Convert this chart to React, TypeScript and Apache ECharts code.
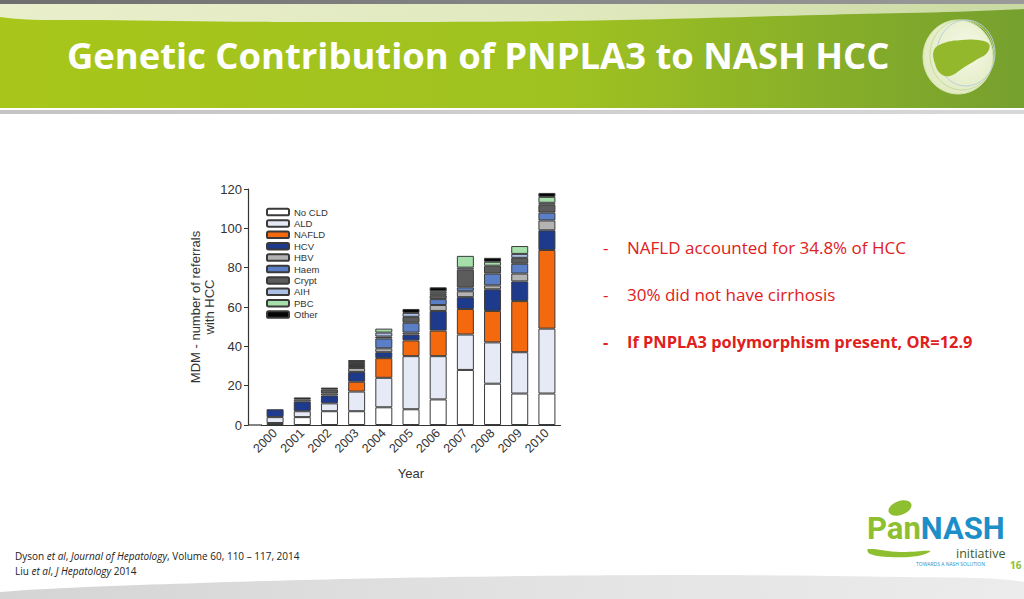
import React, { useEffect, useRef } from "react";
import * as echarts from "echarts";

const years = ["2000", "2001", "2002", "2003", "2004", "2005", "2006", "2007", "2008", "2009", "2010"];
const yTicks = [0, 20, 40, 60, 80, 100, 120];

const noCLD = [1, 4, 7, 7, 9, 8, 13, 28, 21, 16, 16];
const ald = [3, 3, 4, 10, 15, 27, 22, 18, 21, 21, 33];
const nafld = [0, 0, 0, 5, 10, 8, 13, 13, 16, 26, 40];
const hcv = [4, 5, 4, 5, 3, 3, 10, 6, 11, 10, 10];
const hbv = [0, 1, 1, 2, 2, 1, 3, 3, 2, 4, 5];
const haem = [0, 0, 0, 1, 5, 5, 3, 2, 6, 5, 4];
const crypt = [0, 0, 2, 1, 1, 3, 2, 9, 4, 3, 4];
const aih = [0, 0, 0, 1, 2, 2, 1, 1, 0, 2, 1];
const pbc = [0, 0, 0, 0, 2, 0, 1, 6, 2, 4, 3];
const other = [0, 1, 1, 1, 0, 2, 2, 0, 2, 0, 2];

const seriesNames = ["No CLD", "ALD", "NAFLD", "HCV", "HBV", "Haem", "Crypt", "AIH", "PBC", "Other"];
const seriesData = [noCLD, ald, nafld, hcv, hbv, haem, crypt, aih, pbc, other];
const seriesColors = ["#ffffff", "#e6e9f6", "#f4680e", "#1e3a8c", "#b3b3b3", "#5b7fc6", "#5c5c5c", "#a9bfe3", "#a5e0aa", "#050505"];

const bullets = [
  "NAFLD accounted for 34.8% of HCC",
  "30% did not have cirrhosis",
  "If PNPLA3 polymorphism present, OR=12.9",
];

const title = "Genetic Contribution of PNPLA3 to NASH HCC";

export default function App() {
  const ref = useRef<HTMLDivElement>(null);

  useEffect(() => {
    if (!ref.current) return;
    const chart = echarts.init(ref.current, null, { renderer: "svg" });

    const axisFont = "Liberation Sans, Arial, sans-serif";
    const slideFont = "Open Sans, sans-serif";

    const series = seriesNames.map((name, i) => ({
      name,
      type: "bar",
      stack: "total",
      barWidth: 17,
      data: seriesData[i].map((v) => (v === 0 ? null : v)),
      itemStyle: { color: seriesColors[i], borderColor: "#3a3a3a", borderWidth: 1 },
    }));

    const bulletFont = (i: number) => (i === 2 ? `bold 16.4px ${slideFont}` : `17px ${slideFont}`);

    const graphics: any[] = [
      // banner
      {
        type: "rect",
        shape: { x: 0, y: 0, width: 1024, height: 108 },
        style: {
          fill: new echarts.graphic.LinearGradient(0, 0, 1, 0, [
            { offset: 0, color: "#a8c61a" },
            { offset: 0.55, color: "#9fc221" },
            { offset: 1, color: "#76a02f" },
          ]),
        },
        z: 0,
      },
      {
        type: "polygon",
        shape: {
          points: [[0, 3], [1024, 3], [1024, 9], [820, 15], [560, 21], [300, 22], [100, 20], [0, 17]],
          smooth: 0.3,
        },
        style: {
          fill: new echarts.graphic.LinearGradient(0, 0, 1, 0, [
            { offset: 0, color: "#e9efcc" },
            { offset: 0.6, color: "#dfe8bd" },
            { offset: 1, color: "#c9d9a2" },
          ]),
        },
        z: 1,
      },
      {
        type: "rect",
        shape: { x: 0, y: 0, width: 1024, height: 4 },
        style: {
          fill: new echarts.graphic.LinearGradient(0, 0, 1, 0, [
            { offset: 0, color: "#6e6e6e" },
            { offset: 1, color: "#9a9a9a" },
          ]),
        },
        z: 2,
      },
      {
        type: "rect",
        shape: { x: 0, y: 110, width: 1024, height: 4 },
        style: {
          fill: new echarts.graphic.LinearGradient(0, 0, 1, 0, [
            { offset: 0, color: "#c4c4c4" },
            { offset: 1, color: "#d8d8d8" },
          ]),
        },
        z: 1,
      },
      {
        type: "text",
        left: 67,
        top: 37,
        style: { text: title, fill: "#ffffff", font: `bold 36.4px ${slideFont}` },
        z: 3,
      },
      // right logo
      {
        type: "ellipse",
        shape: { cx: 958, cy: 57, rx: 35, ry: 37 },
        style: {
          fill: new echarts.graphic.RadialGradient(0.6, 0.4, 0.7, [
            { offset: 0, color: "#f6f9e8" },
            { offset: 1, color: "#dfe9bd" },
          ]),
          stroke: "#d6e4ae",
          lineWidth: 1,
        },
        z: 3,
      },
      { type: "ellipse", shape: { cx: 962, cy: 55, rx: 32, ry: 35 }, style: { fill: "none", stroke: "#c8daa0", lineWidth: 1 }, z: 4 },
      { type: "ellipse", shape: { cx: 966, cy: 53, rx: 29, ry: 33 }, style: { fill: "none", stroke: "#b9cfe0", lineWidth: 1 }, z: 4 },
      {
        type: "polygon",
        shape: {
          points: [[934, 50], [944, 43], [962, 40], [978, 40], [989, 44], [987, 53], [976, 60], [963, 68], [950, 76], [941, 74], [935, 64]],
          smooth: 0.4,
        },
        style: { fill: "#93b82c" },
        z: 5,
      },
      // bullets
      ...bullets.map((_, i) => ({
        type: "text",
        left: 603,
        top: 239 + i * 47,
        style: { text: "-", fill: "#e0201c", font: bulletFont(i) },
        z: 3,
      })),
      ...bullets.map((b, i) => ({
        type: "text",
        left: 627,
        top: 239 + i * 47,
        style: { text: b, fill: "#e0201c", font: bulletFont(i) },
        z: 3,
      })),
      // citations
      {
        type: "text",
        left: 15,
        top: 551,
        style: {
          text: "{n|Dyson }{i|et al}{n|, }{i|Journal of Hepatology}{n|, Volume 60, 110 – 117, 2014}",
          rich: {
            n: { font: `10px ${slideFont}`, fill: "#222" },
            i: { font: `italic 10px ${slideFont}`, fill: "#222" },
          },
        },
        z: 3,
      },
      {
        type: "text",
        left: 15,
        top: 566,
        style: {
          text: "{n|Liu }{i|et al}{n|, }{i|J Hepatology}{n| 2014}",
          rich: {
            n: { font: `10px ${slideFont}`, fill: "#222" },
            i: { font: `italic 10px ${slideFont}`, fill: "#222" },
          },
        },
        z: 3,
      },
      // bottom swoosh
      {
        type: "polygon",
        shape: {
          points: [[0, 599], [0, 592], [200, 583], [450, 577], [700, 575], [900, 577], [1024, 582], [1024, 599]],
          smooth: 0.3,
        },
        style: {
          fill: new echarts.graphic.LinearGradient(0, 0, 1, 0, [
            { offset: 0, color: "#d4d4d4" },
            { offset: 0.5, color: "#e2e2e2" },
            { offset: 1, color: "#ececec" },
          ]),
        },
        z: 1,
      },
      // PanNASH logo
      {
        type: "ellipse",
        shape: { cx: 0, cy: 0, rx: 12, ry: 7 },
        x: 900,
        y: 508,
        rotation: 0.35,
        style: { fill: "#8dbf30" },
        z: 3,
      },
      {
        type: "text",
        left: 867,
        top: 513,
        style: {
          text: "{p|Pan}{n|NASH}",
          rich: {
            p: { font: `bold 31px Roboto, sans-serif`, fill: "#8dbf30", lineHeight: 27 },
            n: { font: `bold 31px Roboto, sans-serif`, fill: "#1c8fc8", lineHeight: 27 },
          },
        },
        z: 3,
      },
      {
        type: "polygon",
        shape: { points: [[868, 549], [900, 552], [930, 551], [918, 556], [890, 557], [870, 554]], smooth: 0.4 },
        style: { fill: "#8dbf30" },
        z: 3,
      },
      {
        type: "text",
        left: 956,
        top: 547,
        style: { text: "initiative", fill: "#3d5a2a", font: `12.5px ${slideFont}`, lineHeight: 12 },
        z: 3,
      },
      {
        type: "text",
        left: 916,
        top: 561,
        style: { text: "TOWARDS A NASH SOLUTION", fill: "#1c8fc8", font: `5px ${slideFont}` },
        z: 3,
      },
      {
        type: "text",
        left: 1010,
        top: 560,
        style: { text: "16", fill: "#8dbf30", font: `bold 10px ${slideFont}` },
        z: 3,
      },
      // x-axis extension to the y axis
      {
        type: "line",
        shape: { x1: 248, y1: 425, x2: 262, y2: 425 },
        style: { stroke: "#333", lineWidth: 1.2 },
        z: 3,
      },
    ];

    chart.setOption({
      animation: false,
      backgroundColor: "#ffffff",
      grid: { left: 261.5, top: 189, width: 299, height: 236, containLabel: false },
      legend: {
        orient: "vertical",
        left: 261,
        top: 202,
        itemWidth: 22,
        itemHeight: 6.5,
        itemGap: 1.4,
        textStyle: { fontFamily: axisFont, fontSize: 9.5, lineHeight: 10, color: "#333" },
        data: seriesNames,
      },
      xAxis: {
        type: "category",
        data: years,
        name: "Year",
        nameLocation: "middle",
        nameGap: 42,
        nameTextStyle: { fontFamily: axisFont, fontSize: 13, color: "#333" },
        axisLine: { lineStyle: { color: "#333", width: 1.2 } },
        axisTick: { alignWithLabel: true, length: 4, lineStyle: { color: "#333" } },
        axisLabel: { rotate: 45, fontFamily: axisFont, fontSize: 12.5, color: "#333", margin: 6 },
      },
      yAxis: {
        type: "value",
        min: 0,
        max: yTicks[yTicks.length - 1],
        interval: yTicks[1] - yTicks[0],
        offset: 13.5,
        name: "MDM - number of referrals\nwith HCC",
        nameLocation: "middle",
        nameGap: 29,
        nameTextStyle: { fontFamily: axisFont, fontSize: 13, color: "#333", lineHeight: 14 },
        axisLine: { show: true, lineStyle: { color: "#333", width: 1.2 } },
        axisTick: { show: true, length: 4, lineStyle: { color: "#333" } },
        axisLabel: { fontFamily: axisFont, fontSize: 13, color: "#333", margin: 6 },
        splitLine: { show: false },
      },
      graphic: graphics,
      series,
    });

    return () => chart.dispose();
  }, []);

  return (
    <div
      ref={ref}
      style={{ position: "fixed", left: 0, top: 0, width: 1024, height: 599 }}
    />
  );
}
